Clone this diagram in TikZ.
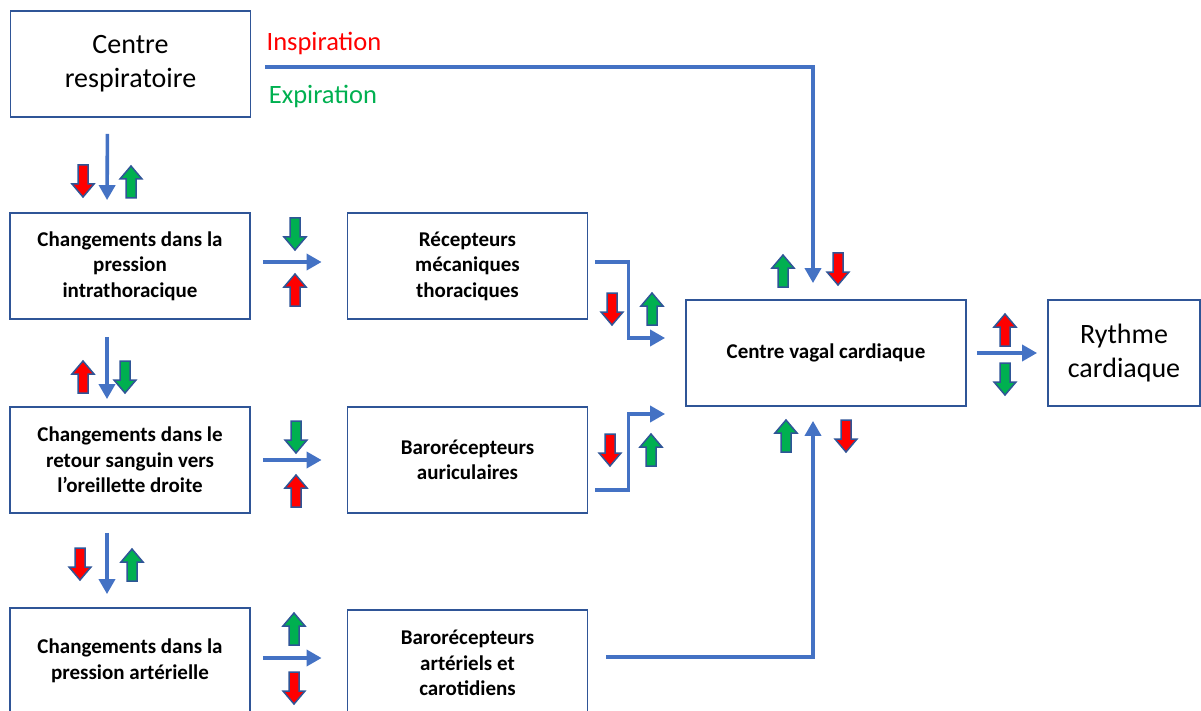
\documentclass[tikz,border=0pt]{standalone}
\usepackage{fontspec}
\setmainfont{Carlito}
\usetikzlibrary{arrows.meta}
\definecolor{boxblue}{HTML}{2F5597}
\definecolor{flowblue}{HTML}{4472C4}
\definecolor{insred}{HTML}{FF0000}
\definecolor{expgreen}{HTML}{00B050}
\definecolor{arrowedge}{HTML}{2F5597}
% #1-x  #2-y (centre)  #3 1=haut -1=bas  #4-couleur
\newcommand{\fatarrow}[4]{%
    \begin{scope}[shift={(#1,#2)},yscale=#3]
    \draw[arrowedge,line width=1.5pt,fill=#4,line join=miter] (0,-16) -- (11,-3) -- (5,-3) -- (5,16) -- (-5,16) -- (-5,-3) -- (-11,-3) -- cycle;
    \end{scope}
}
\tikzset{
    box/.style={draw=boxblue,line width=1.8pt,minimum width=240pt,minimum height=106pt,inner sep=0pt,align=center,font=\fontsize{21}{25.5}\selectfont\bfseries},
    bigbox/.style={box,font=\fontsize{28}{34}\selectfont},
    flow/.style={flowblue,line width=3.6pt,-{Triangle[length=15pt,width=16pt]}},
    phase/.style={font=\fontsize{26.5}{30}\selectfont}
}
\begin{document}
\begin{tikzpicture}[x=1pt,y=-1pt]
    \useasboundingbox (0,0) rectangle (1201,711);
    \clip (0,0) rectangle (1201,711);
    \node[bigbox] (cr) at (130.5,64) {Centre\\respiratoire};
    \node[box] (cpi) at (130,266) {Changements dans la\\pression\\intrathoracique};
    \node[box] (crs) at (130,460) {Changements dans le\\retour sanguin vers\\l’oreillette droite};
    \node[box] (cpa) at (130,661) {Changements dans la\\pression artérielle};
    \node[box] (rm) at (467.5,266) {Récepteurs\\mécaniques\\thoraciques};
    \node[box] (bau) at (467.5,460) {Barorécepteurs\\auriculaires};
    \node[box] (bart) at (467.5,663) {Barorécepteurs\\artériels et\\carotidiens};
    \node[box,minimum width=280pt] (cv) at (826,353) {Centre vagal cardiaque};
    \node[bigbox,minimum width=152pt] (ry) at (1124,353) {Rythme\\cardiaque};
    \node[phase,text=insred] (insp) at (324,43) {Inspiration};
    \node[phase,text=expgreen] (expi) at (323,96) {Expiration};
    \coordinate (inspstart) at (265,67);

    \draw[flow,shorten >=16pt] (inspstart) -| ([xshift=-13pt]cv.north);
    \draw[flow,shorten <=18pt,shorten >=14pt] ([yshift=6pt]bart.east) -| ([xshift=-13pt]cv.south);
    \draw[flow] ([xshift=7pt,yshift=4pt]rm.east) -- ++(33,0) |- ([xshift=-20pt,yshift=15pt]cv.west);
    \draw[flow] ([xshift=7pt,yshift=-30pt]bau.east) -- ++(33,0) |- ([xshift=-20pt,yshift=-61pt]cv.west);
    \draw[flow,shorten <=10pt,shorten >=10pt] (cv) -- (ry);

    \draw[flow,shorten <=16pt,shorten >=12pt] ([xshift=-23pt]cr.south) -- ([xshift=-23pt]cpi.north);
    \draw[flow,shorten <=17pt,shorten >=7pt] ([xshift=-23pt]cpi.south) -- ([xshift=-23pt]crs.north);
    \draw[flow,shorten <=19pt,shorten >=13pt] ([xshift=-23pt]crs.south) -- ([xshift=-23pt]cpa.north);
    \draw[flow,shorten <=12pt,shorten >=25pt] ([yshift=4pt]cpi.east) -- ([yshift=4pt]rm.west);
    \draw[flow,shorten <=12pt,shorten >=25pt] (crs) -- (bau);
    \draw[flow,shorten <=12pt,shorten >=25pt] ([yshift=3pt]cpa.east) -- ([yshift=3pt]cpa.east -| bart.west);

    \fatarrow{83}{181}{-1}{insred}
    \fatarrow{131}{182}{1}{expgreen}
    \fatarrow{83}{377}{1}{insred}
    \fatarrow{125}{377}{-1}{expgreen}
    \fatarrow{80}{564}{-1}{insred}
    \fatarrow{132}{565}{1}{expgreen}
    \fatarrow{295}{234}{-1}{expgreen}
    \fatarrow{295}{290}{1}{insred}
    \fatarrow{296}{437}{-1}{expgreen}
    \fatarrow{296}{491}{1}{insred}
    \fatarrow{294}{629}{1}{expgreen}
    \fatarrow{294}{688}{-1}{insred}
    \fatarrow{612}{309}{-1}{insred}
    \fatarrow{652}{309}{1}{expgreen}
    \fatarrow{610}{450}{-1}{insred}
    \fatarrow{651}{450}{1}{expgreen}
    \fatarrow{783}{271}{1}{expgreen}
    \fatarrow{838}{269}{-1}{insred}
    \fatarrow{786}{436}{1}{expgreen}
    \fatarrow{846}{436}{-1}{insred}
    \fatarrow{1005}{330}{1}{insred}
    \fatarrow{1005}{379}{-1}{expgreen}
\end{tikzpicture}
\end{document}
